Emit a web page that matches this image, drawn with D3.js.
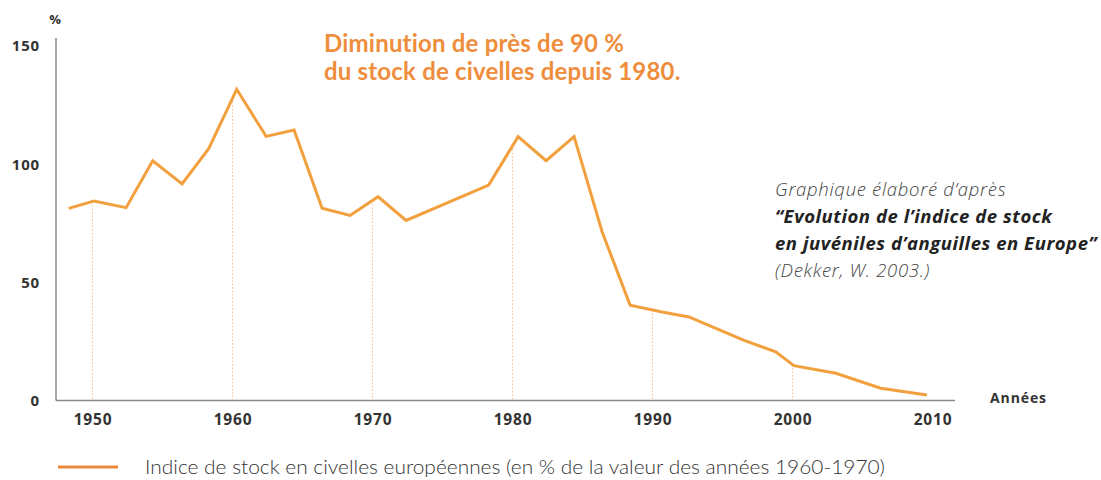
<!DOCTYPE html>
<html>
<head>
<meta charset="utf-8">
<script src="https://cdn.jsdelivr.net/npm/d3@7"></script>
<style>
  body { margin: 0; background: #fff; }
  svg { display: block; }
  .tick text { font-family: "Open Sans", sans-serif; font-weight: 700; fill: #333; }
</style>
</head>
<body>
<div id="chart"></div>
<script>
/*
DATA
*/
const years = [1948.3, 1950.1, 1952.4, 1954.3, 1956.4, 1958.3, 1960.3, 1962.4, 1964.4, 1966.4,
  1968.4, 1970.4, 1972.4, 1978.3, 1980.4, 1982.4, 1984.4, 1986.4, 1988.4, 1990.6,
  1992.6, 1996.5, 1998.8, 2000.1, 2003.1, 2006.3, 2009.6];
const stockIndex = [81.2, 84.3, 81.5, 101.3, 91.5, 106.4, 131.5, 111.6, 114.3, 81.2,
  78.2, 86.1, 76.1, 91, 111.5, 101.3, 111.5, 71.3, 40.3, 37.5,
  35.3, 25.5, 20.6, 14.7, 11.5, 5.2, 2.3];
const xTicks = [1950, 1960, 1970, 1980, 1990, 2000, 2010];
const yTicks = [0, 50, 100, 150];
const guideYears = [1950, 1960, 1970, 1980, 1990, 2000];

const titleLines = ["Diminution de près de 90 %", "du stock de civelles depuis 1980."];
const sourceLines = [
  { text: "Graphique élaboré d’après", bold: false },
  { text: "“Evolution de l’indice de stock", bold: true },
  { text: "en juvéniles d’anguilles en Europe”", bold: true },
  { text: "(Dekker, W. 2003.)", bold: false }
];
const legendLabel = "Indice de stock en civelles européennes (en % de la valeur des années 1960-1970)";

/*
SET UP
*/
const w = 1101;
const h = 480;
const lineColor = "#f2a03e";

const svg = d3.select("#chart").append("svg")
  .attr("width", w)
  .attr("height", h);

const x = d3.scaleLinear().domain([1950, 2010]).range([92.5, 932.5]);
const y = d3.scaleLinear().domain([0, 150]).range([400.5, 45.5]);

const points = years.map((yr, i) => ({ year: yr, value: stockIndex[i] }));

// value of the series at a given year (for the dotted guides)
function valueAt(yr) {
  const i = d3.bisector(d => d.year).left(points, yr);
  const a = points[i - 1], b = points[i];
  const t = (yr - a.year) / (b.year - a.year);
  return a.value + t * (b.value - a.value);
}

/*
GUIDES
*/
svg.selectAll(".guide")
  .data(guideYears)
  .join("line")
  .attr("class", "guide")
  .attr("x1", d => x(d)).attr("x2", d => x(d))
  .attr("y1", d => y(valueAt(d)))
  .attr("y2", y(0))
  .attr("stroke", "#f1c38e")
  .attr("stroke-width", 1)
  .attr("stroke-dasharray", "1.5,2");

/*
AXES
*/
svg.append("line")
  .attr("x1", 56).attr("x2", 56)
  .attr("y1", 38).attr("y2", y(0))
  .attr("stroke", "#8a8a8a").attr("stroke-width", 1.5);
svg.append("line")
  .attr("x1", 56).attr("x2", 955)
  .attr("y1", y(0)).attr("y2", y(0))
  .attr("stroke", "#8a8a8a").attr("stroke-width", 1.5);

const yAxis = svg.append("g")
  .attr("transform", "translate(40,0)")
  .call(d3.axisLeft(y).tickValues(yTicks).tickSize(0).tickPadding(0));
yAxis.select(".domain").remove();
yAxis.selectAll("text").style("font-size", "15px").style("letter-spacing", "0.8px").attr("dy", "0.36em");

const xAxis = svg.append("g")
  .attr("transform", `translate(0,${y(0)})`)
  .call(d3.axisBottom(x).tickValues(xTicks).tickFormat(d3.format("d")).tickSize(0).tickPadding(13));
xAxis.select(".domain").remove();
xAxis.selectAll("text").style("font-size", "15.5px").style("letter-spacing", "0.8px");

svg.append("text")
  .attr("x", 55).attr("y", 24)
  .attr("text-anchor", "middle")
  .style("font-family", "'Open Sans', sans-serif")
  .style("font-weight", 700)
  .style("font-size", "13px")
  .style("fill", "#333")
  .text("%");

svg.append("text")
  .attr("x", 990).attr("y", 403)
  .style("font-family", "'Open Sans', sans-serif")
  .style("font-weight", 700)
  .style("font-size", "14px")
  .style("letter-spacing", "0.9px")
  .style("fill", "#333")
  .text("Années");

/*
LINE
*/
const line = d3.line().x(d => x(d.year)).y(d => y(d.value));

svg.append("path")
  .datum(points)
  .attr("d", line)
  .attr("fill", "none")
  .attr("stroke", lineColor)
  .attr("stroke-width", 3)
  .attr("stroke-linejoin", "miter");

/*
TEXTS
*/
svg.selectAll(".title")
  .data(titleLines)
  .join("text")
  .attr("class", "title")
  .attr("x", 324)
  .attr("y", (d, i) => 52 + i * 28)
  .style("font-family", "Lato, sans-serif")
  .style("font-weight", 700)
  .style("font-size", "24px")
  .style("letter-spacing", "0.2px")
  .style("fill", "#ee8d3c")
  .text(d => d);

svg.selectAll(".source")
  .data(sourceLines)
  .join("text")
  .attr("class", "source")
  .attr("x", 775)
  .attr("y", (d, i) => 196 + i * 27)
  .style("font-family", "'Open Sans', sans-serif")
  .style("font-style", "italic")
  .style("font-weight", d => d.bold ? 700 : 300)
  .style("font-size", "18.5px")
  .style("letter-spacing", d => d.bold ? "0.55px" : "0.7px")
  .style("fill", d => d.bold ? "#222" : "#444")
  .text(d => d.text);

/*
LEGEND
*/
svg.append("line")
  .attr("x1", 58).attr("x2", 118)
  .attr("y1", 467).attr("y2", 467)
  .attr("stroke", "#ea8a3e")
  .attr("stroke-width", 3);

svg.append("text")
  .attr("x", 145).attr("y", 474)
  .attr("textLength", 740)
  .attr("lengthAdjust", "spacingAndGlyphs")
  .style("font-family", "Lato, sans-serif")
  .style("font-weight", 300)
  .style("font-size", "20px")
  .style("fill", "#333")
  .text(legendLabel);
</script>
</body>
</html>
